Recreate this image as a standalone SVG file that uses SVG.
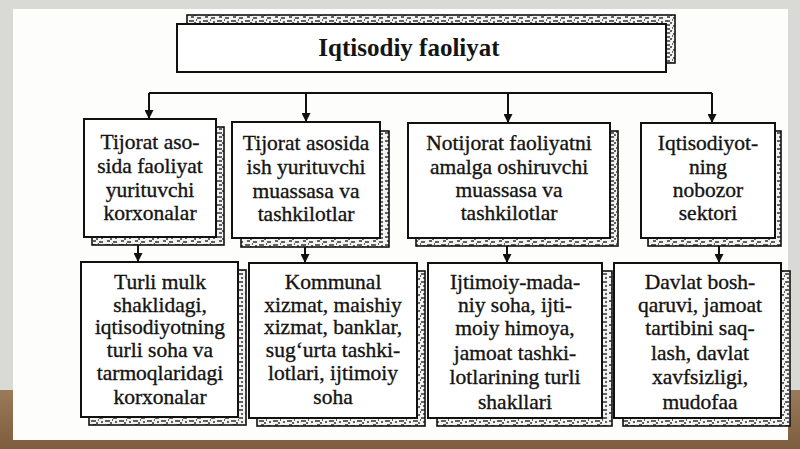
<svg xmlns="http://www.w3.org/2000/svg" width="800" height="449" viewBox="0 0 800 449">
<defs>
<style>
.box{fill:#fff;stroke:#111;stroke-width:2}
.sh{fill:url(#hatch);stroke:#111;stroke-width:1.6}
.t{font-family:"Liberation Serif","Times New Roman",serif;font-size:21.5px;fill:#141414;stroke:#141414;stroke-width:0.35;text-anchor:middle}
.title{font-family:"Liberation Serif","Times New Roman",serif;font-size:25px;font-weight:bold;fill:#141414;text-anchor:middle}
.c{fill:none;stroke:#111;stroke-width:2}
</style>
<pattern id="hatch" width="14" height="8" patternUnits="userSpaceOnUse">
<rect width="14" height="8" fill="#f2f2f2"/>
<path d="M1 2h4M7 5h5M3 6h2M9 1h3M0 4h1M12 7h2" stroke="#333" stroke-width="1.3"/>
</pattern>
<marker id="arr" viewBox="0 0 10 10" refX="10" refY="5" markerWidth="11" markerHeight="9" markerUnits="userSpaceOnUse" orient="auto">
<path d="M0,0 L10,5 L0,10 z" fill="#111"/>
</marker>
<linearGradient id="floor" x1="0" y1="0" x2="0" y2="1">
<stop offset="0" stop-color="#9a7a58"/>
<stop offset="1" stop-color="#7d5d3e"/>
</linearGradient>
</defs>
<rect width="800" height="449" fill="#d9d9d6"/>
<rect x="0" y="390" width="800" height="59" fill="url(#floor)"/>
<rect x="13" y="9" width="775" height="431" fill="#fdfdfb"/>

<g id="connectors">
<path class="c" d="M149 93H712"/>
<path class="c" d="M149 93V119" marker-end="url(#arr)"/>
<path class="c" d="M306 93V122" marker-end="url(#arr)"/>
<path class="c" d="M508 93V123" marker-end="url(#arr)"/>
<path class="c" d="M712 93V123" marker-end="url(#arr)"/>
<path class="c" d="M138 237V262" marker-end="url(#arr)"/>
<path class="c" d="M305 238V263" marker-end="url(#arr)"/>
<path class="c" d="M507 238V263" marker-end="url(#arr)"/>
<path class="c" d="M719 238V263" marker-end="url(#arr)"/>
</g>

<g id="n0">
<rect class="sh" x="187" y="15" width="488" height="48"/>
<rect class="box" x="177" y="24" width="489" height="48"/>
<text class="title" x="409" y="56">Iqtisodiy faoliyat</text>
</g>

<g id="n1">
<rect class="sh" x="92" y="127" width="132" height="118"/>
<rect class="box" x="84" y="119" width="132" height="118"/>
<text class="t" x="150" y="149">Tijorat aso-</text>
<text class="t" x="150" y="173">sida faoliyat</text>
<text class="t" x="150" y="197">yurituvchi</text>
<text class="t" x="150" y="220">korxonalar</text>
</g>

<g id="n2">
<rect class="sh" x="241" y="131" width="148" height="116"/>
<rect class="box" x="232" y="122" width="148" height="116"/>
<text class="t" x="306" y="150">Tijorat asosida</text>
<text class="t" x="306" y="174">ish yurituvchi</text>
<text class="t" x="306" y="198">muassasa va</text>
<text class="t" x="306" y="221">tashkilotlar</text>
</g>

<g id="n3">
<rect class="sh" x="416" y="131" width="202" height="115"/>
<rect class="box" x="408" y="123" width="202" height="115"/>
<text class="t" x="509" y="150">Notijorat faoliyatni</text>
<text class="t" x="509" y="174">amalga oshiruvchi</text>
<text class="t" x="509" y="197">muassasa va</text>
<text class="t" x="509" y="220">tashkilotlar</text>
</g>

<g id="n4">
<rect class="sh" x="648" y="131" width="133" height="115"/>
<rect class="box" x="641" y="123" width="134" height="115"/>
<text class="t" x="708" y="150">Iqtisodiyot-</text>
<text class="t" x="708" y="174">ning</text>
<text class="t" x="708" y="197">nobozor</text>
<text class="t" x="708" y="220">sektori</text>
</g>

<g id="n5">
<rect class="sh" x="89" y="270" width="157" height="155"/>
<rect class="box" x="81" y="262" width="157" height="155"/>
<text class="t" x="160" y="289">Turli mulk</text>
<text class="t" x="160" y="312">shaklidagi,</text>
<text class="t" x="160" y="334">iqtisodiyotning</text>
<text class="t" x="160" y="357">turli soha va</text>
<text class="t" x="160" y="380">tarmoqlaridagi</text>
<text class="t" x="160" y="404">korxonalar</text>
</g>

<g id="n6">
<rect class="sh" x="257" y="271" width="168" height="155"/>
<rect class="box" x="249" y="263" width="168" height="155"/>
<text class="t" x="333" y="289">Kommunal</text>
<text class="t" x="333" y="312">xizmat, maishiy</text>
<text class="t" x="333" y="334">xizmat, banklar,</text>
<text class="t" x="333" y="357">sug‘urta tashki-</text>
<text class="t" x="333" y="380">lotlari, ijtimoiy</text>
<text class="t" x="333" y="404">soha</text>
</g>

<g id="n7">
<rect class="sh" x="437" y="271" width="175" height="155"/>
<rect class="box" x="428" y="263" width="174" height="155"/>
<text class="t" x="515" y="289">Ijtimoiy-mada-</text>
<text class="t" x="515" y="312">niy soha, ijti-</text>
<text class="t" x="515" y="335">moiy himoya,</text>
<text class="t" x="515" y="360">jamoat tashki-</text>
<text class="t" x="515" y="384">lotlarining turli</text>
<text class="t" x="515" y="409">shakllari</text>
</g>

<g id="n8">
<rect class="sh" x="623" y="271" width="167" height="155"/>
<rect class="box" x="614" y="263" width="167" height="155"/>
<text class="t" x="700" y="289">Davlat bosh-</text>
<text class="t" x="700" y="312">qaruvi, jamoat</text>
<text class="t" x="700" y="335">tartibini saq-</text>
<text class="t" x="700" y="360">lash, davlat</text>
<text class="t" x="700" y="384">xavfsizligi,</text>
<text class="t" x="700" y="409">mudofaa</text>
</g>
</svg>
